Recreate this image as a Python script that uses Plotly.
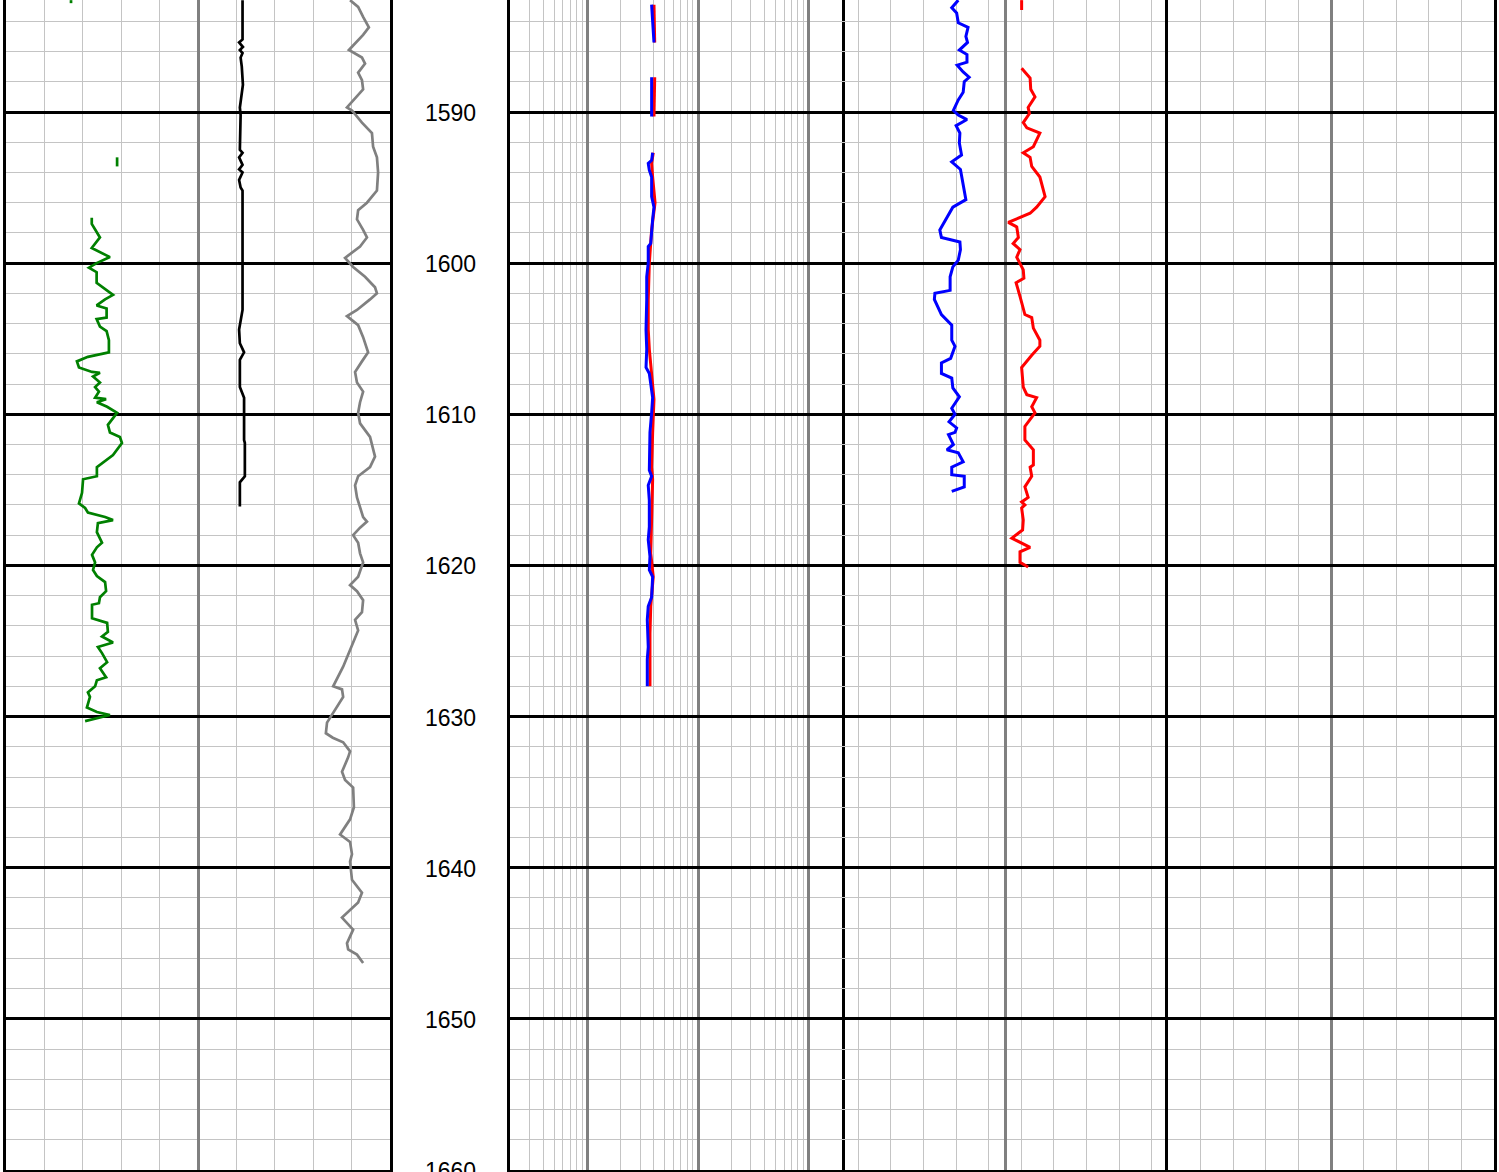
import plotly.graph_objects as go

# ---------------- data ----------------
depth_ticks = [1590, 1600, 1610, 1620, 1630, 1640, 1650, 1660]

# Track 1 : GR (green), scale 0-150
gr_depth = [1582.6, 1582.8, None,
            1593.0, 1593.6, None,
            1597.0, 1597.4, 1598.3, 1599.0, 1599.6, 1600.0, 1600.3, 1600.6, 1601.3, 1602.1,
            1602.4, 1602.8, 1603.0, 1603.6, 1603.7, 1604.2, 1604.5, 1605.1, 1605.9, 1606.2,
            1606.5, 1606.9, 1607.2, 1607.25, 1607.5, 1607.9, 1608.2, 1608.5, 1608.9, 1609.0,
            1609.2, 1609.5, 1609.9, 1610.7, 1611.2, 1611.5, 1611.9, 1612.7, 1613.5, 1614.1,
            1614.3, 1615.2, 1615.9, 1616.2, 1616.5, 1616.8, 1617.0, 1617.2, 1617.8, 1618.5,
            1618.8, 1619.3, 1619.8, 1620.3, 1620.7, 1621.1, 1621.7, 1622.1, 1622.5, 1622.6,
            1623.5, 1623.8, 1624.4, 1624.7, 1625.1, 1625.4, 1625.8, 1626.4, 1626.8, 1627.4,
            1627.6, 1628.0, 1628.4, 1628.7, 1629.4, 1629.7, 1629.9, 1630.3]
gr_val = [25.4, 25.4, None,
          43.4, 43.4, None,
          33.5, 33.5, 36.7, 33.5, 40.6, 35.4, 32.4, 35.4, 35.4, 41.8,
          38.7, 35.4, 39.3, 39.3, 35.4, 36.7, 39.3, 40.2, 40.2, 32.0,
          27.7, 28.5, 33.6, 36.7, 34.0, 36.7, 34.8, 36.3, 34.8, 39.1,
          35.5, 39.5, 43.4, 39.8, 40.6, 44.5, 45.3, 41.8, 35.5, 35.5,
          30.1, 29.7, 28.5, 30.9, 32.0, 38.7, 41.8, 35.9, 35.5, 37.5,
          35.5, 33.6, 34.8, 34.0, 35.5, 38.7, 39.1, 36.7, 36.3, 33.6,
          33.6, 39.5, 39.8, 37.5, 41.8, 35.9, 37.5, 39.5, 36.7, 39.1,
          35.5, 34.8, 32.0, 32.8, 31.6, 35.5, 40.6, 30.9]

# Track 1 : CALI (black), scale 6-16
cali_depth = [1582.6, 1585.2, 1585.4, 1585.7, 1585.9, 1586.1, 1586.4, 1587.0, 1588.2, 1588.4,
              1589.7, 1590.2, 1592.5, 1592.7, 1593.0, 1593.5, 1593.8, 1594.0, 1594.5, 1595.0,
              1595.2, 1603.1, 1604.4, 1605.3, 1605.9, 1606.4, 1608.2, 1608.9, 1611.7, 1611.9,
              1614.1, 1614.5, 1616.1]
cali_val = [12.16, 12.16, 12.07, 12.17, 12.09, 12.16, 12.11, 12.14, 12.17, 12.16,
            12.09, 12.11, 12.09, 12.16, 12.07, 12.16, 12.07, 12.16, 12.07, 12.11,
            12.16, 12.16, 12.07, 12.09, 12.20, 12.09, 12.09, 12.20, 12.20, 12.22,
            12.22, 12.09, 12.09]

# Track 1 : DT (grey), scale 140-40
dt_depth = [1582.6, 1583.05, 1583.7, 1584.4, 1584.9, 1585.9, 1586.4, 1586.8, 1587.4, 1587.9,
            1588.5, 1589.2, 1589.7, 1589.9, 1590.7, 1591.4, 1592.3, 1593.0, 1594.0, 1595.2,
            1596.0, 1596.5, 1597.1, 1597.8, 1598.3, 1598.9, 1599.5, 1599.65, 1600.25, 1600.9,
            1601.6, 1602.0, 1602.4, 1603.1, 1603.5, 1604.1, 1604.9, 1605.9, 1606.5, 1607.2,
            1607.9, 1608.5, 1609.2, 1609.9, 1610.6, 1611.5, 1612.8, 1613.5, 1614.1, 1614.7,
            1615.5, 1616.1, 1616.8, 1617.1, 1617.5, 1618.0, 1618.5, 1619.2, 1619.8, 1620.75,
            1621.3, 1621.7, 1622.3, 1623.1, 1623.6, 1624.3, 1625.1, 1625.8, 1626.7, 1628.0,
            1628.2, 1628.7, 1629.35, 1630.0, 1630.4, 1631.1, 1631.4, 1631.7, 1632.3, 1632.7,
            1633.65, 1634.2, 1634.7, 1636.0, 1636.8, 1637.8, 1638.3, 1639.1, 1639.6, 1640.8,
            1641.65, 1642.3, 1643.3, 1644.1, 1645.0, 1645.4, 1645.75, 1646.3]
dt_val = [50.4, 48.3, 47.0, 45.5, 47.0, 50.7, 47.3, 46.5, 48.3, 47.3,
          47.0, 49.6, 51.2, 49.9, 47.3, 44.7, 44.4, 43.4, 43.1, 43.4,
          46.0, 48.3, 48.6, 47.0, 46.0, 47.8, 50.9, 51.7, 49.6, 46.5,
          43.9, 43.4, 45.2, 48.6, 51.2, 48.3, 47.0, 45.7, 47.3, 49.1,
          48.6, 47.0, 47.8, 48.3, 47.8, 45.2, 43.9, 45.2, 48.3, 49.1,
          48.6, 47.8, 47.0, 46.0, 47.8, 49.6, 48.3, 47.8, 47.0, 48.3,
          50.4, 48.6, 47.0, 47.3, 49.1, 48.3, 49.6, 50.9, 52.2, 54.8,
          52.5, 52.2, 53.8, 55.6, 56.4, 56.7, 54.9, 52.2, 50.4, 50.9,
          52.5, 51.7, 49.6, 49.4, 50.4, 53.0, 50.4, 49.9, 50.4, 49.9,
          47.3, 48.3, 52.5, 49.6, 51.2, 50.9, 48.6, 47.0]

# Track 2 : resistivity (log 0.2-200)
ild_depth = [1582.9, 1585.4, None,
             1587.7, 1590.3, None,
             1592.7, 1593.4, 1594.3, 1596.0, 1597.8, 1600.0, 1602.4, 1604.4, 1605.7, 1607.5,
             1609.0, 1611.2, 1613.5, 1614.3, 1616.8, 1619.2, 1620.75, 1622.7, 1624.5, 1628.0]
ild_val = [4.00, 4.06, None,
           4.06, 4.00, None,
           3.94, 3.81, 3.89, 4.09, 3.81, 3.63, 3.55, 3.55, 3.63, 3.81,
           4.00, 3.89, 3.81, 3.89, 3.81, 3.74, 3.94, 3.74, 3.68, 3.68]
ilm_depth = [1582.9, 1583.9, 1585.4, None,
             1587.7, 1590.3, None,
             1592.7, 1593.2, 1593.4, 1593.85, 1594.3, 1595.6, 1596.3, 1597.1, 1598.7, 1598.9,
             1600.0, 1600.9, 1602.4, 1604.4, 1605.7, 1606.9, 1607.3, 1608.9, 1609.9, 1611.2,
             1613.7, 1614.1, 1614.7, 1615.7, 1617.45, 1618.3, 1619.4, 1620.3, 1620.75, 1622.1,
             1622.7, 1623.6, 1625.4, 1626.2, 1628.0]
ilm_val = [3.81, 3.89, 4.00, None,
           3.81, 3.81, None,
           3.89, 3.81, 3.55, 3.63, 3.81, 3.81, 4.00, 3.89, 3.74, 3.55,
           3.55, 3.44, 3.44, 3.39, 3.44, 3.39, 3.63, 3.89, 3.81, 3.68,
           3.63, 3.81, 3.55, 3.63, 3.63, 3.55, 3.68, 3.63, 3.89, 3.81,
           3.55, 3.48, 3.55, 3.48, 3.48]

# Track 3 : NPHI (blue, 0.45 to -0.15) and RHOB (red, 1.95-2.95)
nphi_depth = [1582.6, 1583.1, 1583.45, 1584.1, 1584.4, 1585.0, 1585.4, 1585.9, 1586.2, 1586.7,
              1586.9, 1587.35, 1587.7, 1588.0, 1588.7, 1589.2, 1589.9, 1590.2, 1590.5, 1590.9,
              1591.4, 1592.05, 1592.85, 1593.3, 1593.8, 1594.7, 1595.8, 1596.3, 1597.8, 1598.3,
              1598.6, 1599.1, 1599.8, 1600.25, 1600.9, 1601.8, 1602.0, 1602.4, 1603.4, 1604.1,
              1605.1, 1605.5, 1606.3, 1606.6, 1607.3, 1607.6, 1608.25, 1608.85, 1609.6, 1610.0,
              1610.5, 1610.9, 1611.2, 1611.35, 1612.0, 1612.35, 1612.55, 1613.15, 1613.5, 1614.0,
              1614.1, 1614.8, 1615.1]
nphi_val = [0.236, 0.248, 0.239, 0.236, 0.218, 0.222, 0.219, 0.234, 0.220, 0.220,
            0.238, 0.227, 0.216, 0.225, 0.227, 0.236, 0.245, 0.236, 0.220, 0.240,
            0.233, 0.234, 0.230, 0.248, 0.232, 0.227, 0.222, 0.246, 0.270, 0.267,
            0.233, 0.232, 0.236, 0.246, 0.251, 0.251, 0.279, 0.280, 0.267, 0.248,
            0.248, 0.242, 0.250, 0.267, 0.267, 0.248, 0.246, 0.234, 0.248, 0.242,
            0.253, 0.239, 0.242, 0.254, 0.245, 0.257, 0.236, 0.227, 0.248, 0.248,
            0.225, 0.225, 0.248]
rhob_depth = [1582.6, 1583.25, None,
              1587.1, 1587.75, 1588.5, 1589.0, 1589.7, 1590.1, 1590.7, 1591.05, 1591.4, 1592.3,
              1592.7, 1593.0, 1593.6, 1594.3, 1595.6, 1596.3, 1596.7, 1597.3, 1597.6, 1598.3,
              1598.7, 1599.1, 1599.6, 1600.45, 1601.0, 1601.3, 1602.2, 1603.4, 1603.6, 1604.3,
              1605.1, 1605.5, 1606.1, 1606.9, 1608.2, 1608.7, 1608.9, 1609.5, 1609.9, 1610.2,
              1610.8, 1611.7, 1612.35, 1613.35, 1613.5, 1614.1, 1614.8, 1615.5, 1615.8, 1616.0,
              1616.2, 1617.0, 1617.65, 1618.2, 1618.5, 1618.8, 1619.1, 1619.8, 1620.1]
rhob_val = [2.501, 2.501, None,
            2.501, 2.527, 2.529, 2.542, 2.521, 2.525, 2.506, 2.517, 2.557, 2.537,
            2.506, 2.527, 2.532, 2.557, 2.573, 2.547, 2.527, 2.460, 2.486, 2.491,
            2.475, 2.496, 2.486, 2.506, 2.508, 2.484, 2.496, 2.511, 2.532, 2.537,
            2.557, 2.557, 2.532, 2.501, 2.506, 2.517, 2.547, 2.532, 2.542, 2.532,
            2.511, 2.511, 2.537, 2.537, 2.527, 2.532, 2.511, 2.521, 2.501, 2.511,
            2.501, 2.506, 2.504, 2.471, 2.501, 2.527, 2.496, 2.496, 2.521]

# ---------------- layout helpers ----------------
W, H = 1499, 1172
def dom(a, b):
    return [a / W, b / W]

D_TOP, D_BOT = 1582.59, 1660.0
MAJ = "#808080"
MIN = "#c4c4c4"

fig = go.Figure()

def lw_trace(x, y, xa, ya, color, width=2.7):
    fig.add_trace(go.Scatter(x=x, y=y, xaxis=xa, yaxis=ya, mode="lines",
                             line=dict(color=color, width=width), connectgaps=False,
                             showlegend=False, hoverinfo="skip"))

# track 1
lw_trace(dt_val, dt_depth, "x7", "y", "#808080")
lw_trace(cali_val, cali_depth, "x6", "y", "black")
lw_trace(gr_val, gr_depth, "x", "y", "green")
# track 2
lw_trace(ild_val, ild_depth, "x3", "y3", "red", 3)
lw_trace(ilm_val, ilm_depth, "x3", "y3", "blue", 3)
# track 3
lw_trace(rhob_val, rhob_depth, "x8", "y4", "red", 3)
lw_trace(nphi_val, nphi_depth, "x4", "y4", "blue", 3)
# track 4 (empty)
fig.add_trace(go.Scatter(x=[None], y=[None], xaxis="x5", yaxis="y5", showlegend=False))

# depth labels in the depth track
for d in depth_ticks:
    fig.add_annotation(x=0.5, y=d, xref="x2", yref="y2", text=str(d), showarrow=False,
                       xanchor="center", yanchor="middle", yshift=-1,
                       font=dict(family="Liberation Sans, Arial", size=23, color="black"))

def track_x(domain, rng, dtick, minor_dtick, tick0=None, typ="linear"):
    d = dict(domain=domain, range=rng, type=typ, showticklabels=False, ticks="",
             zeroline=False, showgrid=True, gridcolor=MAJ, gridwidth=2.6,
             dtick=dtick, showline=True, linecolor="black", linewidth=3, mirror=False,
             minor=dict(dtick=minor_dtick, showgrid=True, gridcolor=MIN, gridwidth=1.4, ticks=""),
             fixedrange=True)
    if tick0 is not None:
        d["tick0"] = tick0
    return d

def track_y(anchor, grid=True, line=True, mirror=True):
    d = dict(range=[D_BOT, D_TOP], anchor=anchor, showticklabels=False, ticks="",
             zeroline=False, showgrid=grid, gridcolor="black", gridwidth=2.7,
             dtick=10, tick0=0, fixedrange=True,
             showline=line, mirror=mirror, linecolor="black", linewidth=3)
    if grid:
        d["minor"] = dict(dtick=2, showgrid=True, gridcolor=MIN, gridwidth=1.4, ticks="")
    return d

layout = dict(
    width=W, height=H, autosize=False,
    margin=dict(l=0, r=0, t=0, b=2, pad=0),
    paper_bgcolor="white", plot_bgcolor="white",
    showlegend=False,
    xaxis=track_x(dom(6, 390), [0, 150], 75, 15, 0),
    xaxis2=dict(domain=dom(390, 510), range=[0, 1], visible=False, fixedrange=True),
    xaxis3=track_x(dom(510, 842), [-0.69897, 2.30103], 1, "D1", typ="log"),
    xaxis4=track_x(dom(842, 1168), [0.45, -0.15], 0.3, 0.06, 0.15),
    xaxis5=track_x(dom(1168, 1494), [0, 1], 0.5, 0.1, 0),
    xaxis6=dict(overlaying="x", anchor="y", range=[6, 16], visible=False, fixedrange=True),
    xaxis7=dict(overlaying="x", anchor="y", range=[140, 40], visible=False, fixedrange=True),
    xaxis8=dict(overlaying="x4", anchor="y4", range=[1.95, 2.95], visible=False, fixedrange=True),
    yaxis=track_y("x"),
    yaxis2=dict(track_y("x2", grid=False, line=False), matches="y", visible=False),
    yaxis3=dict(track_y("x3"), matches="y"),
    yaxis4=dict(track_y("x4", line=False, mirror=False), matches="y"),
    yaxis5=dict(track_y("x5"), matches="y"),
)
fig.update_layout(**layout)

fig.write_html("out.html", config={"displayModeBar": False},
               post_script="document.body.style.margin='0';document.body.style.overflow='hidden';")
